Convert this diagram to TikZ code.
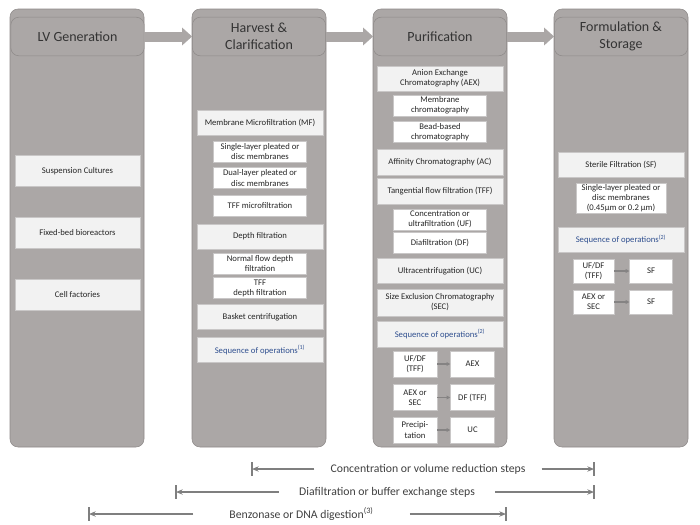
\documentclass[tikz,border=0pt]{standalone}
\usepackage{fontspec}
\setmainfont{Carlito}
\usetikzlibrary{arrows.meta, positioning, fit}
\definecolor{stagegray}{HTML}{ABA7A6}
\definecolor{stageedge}{HTML}{8E8A89}
\definecolor{boxfill}{HTML}{F2F2F2}
\definecolor{boxedge}{HTML}{C9C7C7}
\definecolor{seqblue}{HTML}{2F4F8F}
\definecolor{seqgray}{HTML}{858383}
\definecolor{rangegray}{HTML}{7F7F7F}

\begin{document}
\begin{tikzpicture} [%
    x = 0.75pt,
    y = -0.75pt,
    stage/.style = {%
      draw = stageedge,
      fill = stagegray,
      rounded corners = 6pt,
      inner sep = 0pt },
    header/.style = {%
      stage,
      minimum width = 100pt,
      minimum height = 29pt,
      align = center,
      text = black!80,
      font = \fontsize{10.5}{12.5}\selectfont },
    method/.style = {%
      draw = boxedge,
      fill = boxfill,
      minimum width = 94.5pt,
      minimum height = 18.5pt,
      inner sep = 1.5pt,
      align = center,
      text = black!85,
      font = \fontsize{6.5}{7.6}\selectfont },
    variant/.style = {%
      method,
      fill = white,
      minimum width = 70pt,
      minimum height = 16pt,
      inner sep = 1pt },
    seqhead/.style = {method, text = seqblue},
    seqbox/.style = {variant, minimum width = 33pt, minimum height = 19.5pt},
    flow/.style = {%
      draw = stagegray,
      line width = 7.5pt,
      -{Triangle[length=7.5pt, width=13pt]} },
    seqflow/.style = {%
      draw = seqgray,
      line width = 0.9pt,
      -{Triangle[length=2.8pt, width=2.8pt]} },
    spanarrow/.style = {%
      draw = rangegray,
      line width = 1.3pt,
      -{Stealth[length=5pt, width=4pt]} },
    spanbar/.style = {draw = rangegray, line width = 1.3pt},
    spanlabel/.style = {%
      text = black!75,
      font = \fontsize{8.8}{10}\selectfont }
  ]

  \useasboundingbox (0,0) rectangle (700,525);
  \fill[white] (0,0) rectangle (700,525);

  % stages
  \node[stage, fit={(10,9) (144,447)}] (genCol) {};
  \node[stage, fit={(192,9) (326,447)}] (harvCol) {};
  \node[stage, fit={(373,9) (507,447)}] (purCol) {};
  \node[stage, fit={(554,9) (688,447)}] (formCol) {};

  \node[header] (genHead) at (77.5,36.5) {LV Generation};
  \node[header] (harvHead) at (259,36.5) {Harvest \&\\Clarification};
  \node[header] (purHead) at (440,36.5) {Purification};
  \node[header] (formHead) at (621,36.5) {Formulation \&\\Storage};

  \draw[flow] (genHead) -- (harvHead);
  \draw[flow] (harvHead) -- (purHead);
  \draw[flow] (purHead) -- (formHead);

  % LV generation
  \node[method, minimum width=94pt, minimum height=23pt] (susp) at (77.5,171) {Suspension Cultures};
  \node[method, minimum width=94pt, minimum height=23pt] (fixbed) at (77.5,233) {Fixed-bed bioreactors};
  \node[method, minimum width=94pt, minimum height=23pt] (cellfac) at (77.5,295) {Cell factories};

  % harvest and clarification
  \node[method] (mf) at (260,123) {Membrane Microfiltration (MF)};
  \node[variant] (single) at (260,151.5) {Single-layer pleated or\\disc membranes};
  \node[variant] (dual) at (260,178) {Dual-layer pleated or\\disc membranes};
  \node[variant] (tffmf) at (260,205.5) {TFF microfiltration};
  \node[method] (depth) at (260,236.5) {Depth filtration};
  \node[variant] (normal) at (260,263.5) {Normal flow depth\\filtration};
  \node[variant] (tffdepth) at (260,288) {TFF\\depth filtration};
  \node[method] (basket) at (260,317) {Basket centrifugation};
  \node[seqhead] (seqA) at (260,350) {Sequence of operations\textsuperscript{(1)}};

  % purification
  \node[method] (aex) at (440,78.5) {Anion Exchange\\Chromatography (AEX)};
  \node[variant] (membchrom) at (440,105.5) {Membrane\\chromatography};
  \node[variant] (beadchrom) at (440,132) {Bead-based\\chromatography};
  \node[method, minimum height=19.5pt] (ac) at (440,162) {Affinity Chromatography (AC)};
  \node[method, minimum height=19.5pt] (tff) at (440,191) {Tangential flow filtration (TFF)};
  \node[variant] (uf) at (440,219.5) {Concentration or\\ultrafiltration (UF)};
  \node[variant] (df) at (440,243) {Diafiltration (DF)};
  \node[method] (uc) at (440,271) {Ultracentrifugation (UC)};
  \node[method, minimum height=20pt] (sec) at (440,302.5) {Size Exclusion Chromatography\\(SEC)};
  \node[seqhead, minimum height=19.5pt] (seqB) at (440,334) {Sequence of operations\textsuperscript{(2)}};

  \node[seqbox] (ufdfB) at (415,364) {UF/DF\\(TFF)};
  \node[seqbox] (aexB) [right=9.75pt of ufdfB] {AEX};
  \node[seqbox] (aexsecB) at (415,397.5) {AEX or\\SEC};
  \node[seqbox] (dftffB) [right=9.75pt of aexsecB] {DF (TFF)};
  \node[seqbox] (precipB) at (415,430) {Precipi-\\tation};
  \node[seqbox] (ucB) [right=9.75pt of precipB] {UC};

  \draw[seqflow] (ufdfB) -- (aexB);
  \draw[seqflow] (aexsecB) -- (dftffB);
  \draw[seqflow] (precipB) -- (ucB);

  % formulation and storage
  \node[method] (sf) at (621,165) {Sterile Filtration (SF)};
  \node[variant, minimum width=67.5pt] (sfmemb) at (621,198) {Single-layer pleated or\\disc membranes\\(0.45µm or 0.2 µm)};
  \node[seqhead, minimum height=19pt] (seqC) at (621,239.5) {Sequence of operations\textsuperscript{(2)}};

  \node[seqbox, minimum width=31pt, minimum height=18pt] (ufdfC) at (593.5,271) {UF/DF\\(TFF)};
  \node[seqbox, minimum width=32pt, minimum height=18pt] (sfA) [right=11.25pt of ufdfC] {SF};
  \node[seqbox, minimum width=31pt, minimum height=18pt] (aexsecC) at (593.5,302) {AEX or\\SEC};
  \node[seqbox, minimum width=32pt, minimum height=18pt] (sfB) [right=11.25pt of aexsecC] {SF};

  \draw[seqflow] (ufdfC) -- (sfA);
  \draw[seqflow] (aexsecC) -- (sfB);

  % spans below the stages
  \node[spanlabel, inner xsep=12pt] (conc) at (428,469) {Concentration or volume reduction steps};
  \coordinate (concL) at (252,469);
  \coordinate (concR) at (594,469);
  \draw[spanarrow] (conc.west) -- (concL);
  \draw[spanarrow] (conc.east) -- (concR);
  \draw[spanbar] (concL) ++(0,-7) -- ++(0,14);
  \draw[spanbar] (concR) ++(0,-7) -- ++(0,14);

  \node[spanlabel, inner xsep=15pt] (dia) at (387,492) {Diafiltration or buffer exchange steps};
  \coordinate (diaL) at (176,492);
  \coordinate (diaR) at (594,492);
  \draw[spanarrow] (dia.west) -- (diaL);
  \draw[spanarrow] (dia.east) -- (diaR);
  \draw[spanbar] (diaL) ++(0,-7) -- ++(0,14);
  \draw[spanbar] (diaR) ++(0,-7) -- ++(0,14);

  \node[spanlabel, inner xsep=27pt] (benz) at (301.5,514) {Benzonase or DNA digestion\textsuperscript{(3)}};
  \coordinate (benzL) at (89,514);
  \coordinate (benzR) at (506,514);
  \draw[spanarrow] (benz.west) -- (benzL);
  \draw[spanarrow] (benz.east) -- (benzR);
  \draw[spanbar] (benzL) ++(0,-7) -- ++(0,14);
  \draw[spanbar] (benzR) ++(0,-7) -- ++(0,14);

\end{tikzpicture}
\end{document}
